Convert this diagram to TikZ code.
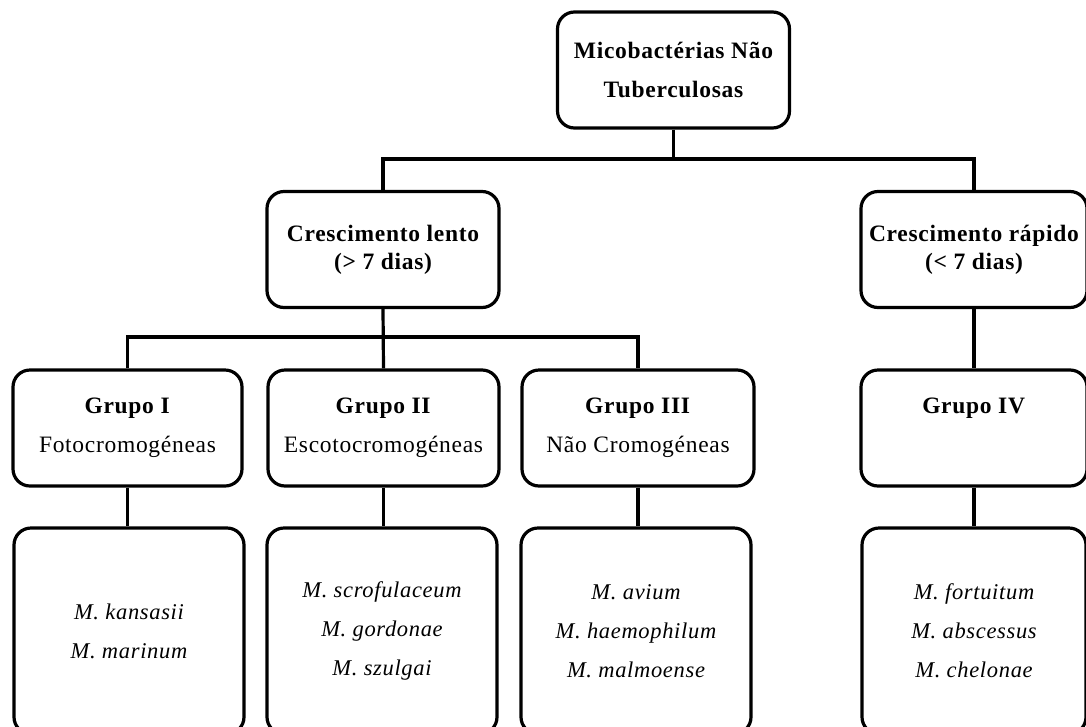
\documentclass[tikz,border=0pt]{standalone}
\usepackage{fontspec}
\setmainfont{Liberation Serif}[LetterSpace=3]
\begin{document}
\begin{tikzpicture}[x=1pt, y=-1pt,
		caixa/.style={draw, line width=3.2pt, rounded corners=17pt, align=center, inner sep=2pt, minimum width=232pt, minimum height=116pt},
		especiebox/.style={caixa, minimum height=206pt, minimum width=230pt},
		negrito/.style={font=\fontsize{23.5}{39}\selectfont\bfseries},
		normal/.style={font=\fontsize{23.5}{39}\selectfont},
		especie/.style={font=\fontsize{22.5}{39}\selectfont\itshape},
		ramo/.style={line width=3.2pt}]
			%%%%% START %%%%%
			\clip (0, 0) rectangle (1086, 726);
			
			\node[caixa, negrito] (mnt) at (673.5, 70) {Micobactérias Não\\Tuberculosas};
			
			\node[caixa, font=\fontsize{23.5}{28}\selectfont\bfseries] (lento) at (383, 249.5) {Crescimento lento\\(> 7 dias)};
			\node[caixa, font=\fontsize{23.5}{28}\selectfont\bfseries, minimum width=226pt] (rapido) at (974, 249.5) {Crescimento rápido\\(< 7 dias)};
			
			\node[caixa, normal, minimum width=229pt] (g1) at (127.5, 428) {\textbf{Grupo I}\\Fotocromogéneas};
			\node[caixa, normal, minimum width=231pt] (g2) at (383.5, 428) {\textbf{Grupo II}\\Escotocromogéneas};
			\node[caixa, normal] (g3) at (638, 428) {\textbf{Grupo III}\\Não Cromogéneas};
			\node[caixa, normal, minimum width=226pt] (g4) at (974, 428) {\textbf{Grupo IV}\\\phantom{Grupo}};
			
			\node[especiebox, especie] (b1) at (129, 631) {M. kansasii\\M. marinum};
			\node[especiebox, especie] (b2) at (382, 631) {M. scrofulaceum\\M. gordonae\\M. szulgai};
			\node[especiebox, especie] (b3) at (636, 631) {M. avium\\M. haemophilum\\M. malmoense};
			\node[especiebox, especie, minimum width=224pt] (b4) at (974, 631) {M. fortuitum\\M. abscessus\\M. chelonae};
			
			%% ligacoes
			\coordinate (j1) at (673.5, 159);
			\coordinate (j2) at (383, 337);
			\draw[ramo] (mnt.south) -- (j1);
			\draw[ramo] (lento.north) |- (j1) -| (rapido.north);
			\draw[ramo] (lento.south) -- (g2.north);
			\draw[ramo] (g1.north) |- (j2) -| (g3.north);
			\draw[ramo] (rapido.south) -- (g4.north);
			
			\draw[ramo] (g1.south) -- (g1.south |- b1.north);
			\draw[ramo] (g2.south) -- (g2.south |- b2.north);
			\draw[ramo] (g3.south) -- (g3.south |- b3.north);
			\draw[ramo] (g4.south) -- (g4.south |- b4.north);
			%%%%% END %%%%%
\end{tikzpicture}
\end{document}
